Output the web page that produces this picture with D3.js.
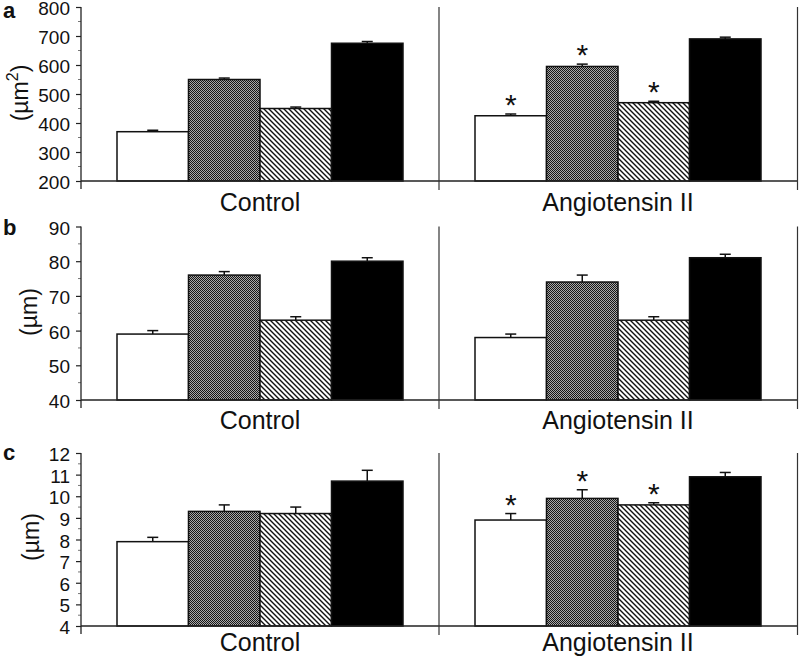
<!DOCTYPE html>
<html><head><meta charset="utf-8">
<script src="https://cdn.jsdelivr.net/npm/d3@7"></script>
<style>
html,body{margin:0;padding:0;background:#fff;}
svg{display:block;font-family:"Liberation Sans",Arial,sans-serif;}
</style></head>
<body>
<svg id="chart" width="800" height="664"></svg>
<script>
// ---- data ----
const categories = ["Control", "Angiotensin II"];
const seriesKeys = ["white", "crosshatch", "diagonal", "black"];

// Panel a (µm²)
const aControl = [370, 550, 450, 675];
const aControlErr = [5, 5, 5, 6];
const aAngio = [425, 595, 470, 690];
const aAngioErr = [6, 8, 5, 6];
const aAngioStars = [true, true, true, false];
const aTicks = [200, 300, 400, 500, 600, 700, 800];

// Panel b (µm)
const bControl = [59, 76, 63, 80];
const bControlErr = [1, 1, 1, 1];
const bAngio = [58, 74, 63, 81];
const bAngioErr = [1, 2, 1, 1];
const bAngioStars = [false, false, false, false];
const bTicks = [40, 50, 60, 70, 80, 90];

// Panel c (µm)
const cControl = [7.9, 9.3, 9.2, 10.7];
const cControlErr = [0.2, 0.3, 0.3, 0.5];
const cAngio = [8.9, 9.9, 9.6, 10.9];
const cAngioErr = [0.3, 0.4, 0.1, 0.2];
const cAngioStars = [true, true, true, false];
const cTicks = [4, 5, 6, 7, 8, 9, 10, 11, 12];

const panels = [
  {letter: "a", unit: "(µm", sup: "2", domain: [200, 800], ticks: aTicks, minorStep: 50,
   values: [aControl, aAngio], errs: [aControlErr, aAngioErr], stars: [[false,false,false,false], aAngioStars],
   top: 7, base: 181, letterY: 18, labelX: 28, labelY: 93, catY: 211},
  {letter: "b", unit: "(µm", sup: null, domain: [40, 90], ticks: bTicks, minorStep: 5,
   values: [bControl, bAngio], errs: [bControlErr, bAngioErr], stars: [[false,false,false,false], bAngioStars],
   top: 226.5, base: 400, letterY: 235, labelX: 37, labelY: 312, catY: 429},
  {letter: "c", unit: "(µm", sup: null, domain: [4, 12], ticks: cTicks, minorStep: 0.5,
   values: [cControl, cAngio], errs: [cControlErr, cAngioErr], stars: [[false,false,false,false], cAngioStars],
   top: 453, base: 626, letterY: 460, labelX: 39, labelY: 537, catY: 651}
];

const svg = d3.select("#chart");
const defs = svg.append("defs");

// crosshatch (fine checker) pattern
const pc = defs.append("pattern").attr("id", "pCross").attr("patternUnits", "userSpaceOnUse")
  .attr("width", 2).attr("height", 2);
pc.append("rect").attr("width", 2).attr("height", 2).attr("fill", "#a8a8a8");
pc.append("rect").attr("x", 0).attr("y", 0).attr("width", 1).attr("height", 1).attr("fill", "#151515");
pc.append("rect").attr("x", 1).attr("y", 1).attr("width", 1).attr("height", 1).attr("fill", "#151515");

// diagonal hatch pattern (\\\)
const pd = defs.append("pattern").attr("id", "pDiag").attr("patternUnits", "userSpaceOnUse")
  .attr("width", 5).attr("height", 5);
pd.append("rect").attr("width", 5).attr("height", 5).attr("fill", "#fff");
pd.append("path").attr("d", "M-1,-1 L6,6 M-1,4 L1,6 M4,-1 L6,1")
  .attr("stroke", "#111").attr("stroke-width", 1.4);

const fills = {white: "#fff", crosshatch: "url(#pCross)", diagonal: "url(#pDiag)", black: "#000"};

const x0 = d3.scaleBand().domain(categories).range([81, 797]).padding(0);
const x1 = d3.scaleBand().domain(seriesKeys).range([36, x0.bandwidth() - 36]).padding(0);

panels.forEach(p => {
  const g = svg.append("g");
  const y = d3.scaleLinear().domain(p.domain).range([p.base, p.top]);

  // bars
  categories.forEach((cat, ci) => {
    seriesKeys.forEach((k, si) => {
      const v = p.values[ci][si];
      const e = p.errs[ci][si];
      const bx = x0(cat) + x1(k);
      const cx = bx + x1.bandwidth() / 2;
      g.append("line").attr("x1", cx).attr("x2", cx).attr("y1", y(v)).attr("y2", y(v + e))
        .attr("stroke", "#111").attr("stroke-width", 1.5);
      g.append("line").attr("x1", cx - 5.5).attr("x2", cx + 5.5).attr("y1", y(v + e)).attr("y2", y(v + e))
        .attr("stroke", "#111").attr("stroke-width", 1.5);
      g.append("rect").attr("x", bx).attr("y", y(v)).attr("width", x1.bandwidth())
        .attr("height", y(p.domain[0]) - y(v))
        .attr("fill", fills[k]).attr("stroke", "#111").attr("stroke-width", 1.5);
      if (p.stars[ci][si]) {
        g.append("text").attr("x", cx).attr("y", y(v + e) + 1)
          .attr("text-anchor", "middle").attr("font-size", 30).attr("fill", "#111").text("*");
      }
    });
  });

  // y axis
  const yAxis = d3.axisLeft(y).tickValues(p.ticks).tickSize(5).tickPadding(6).tickFormat(d3.format("d"));
  const ya = g.append("g").attr("transform", "translate(81,0)").call(yAxis);
  ya.select(".domain").remove();
  ya.selectAll(".tick line").attr("stroke", "#222").attr("stroke-width", 1.2);
  ya.selectAll(".tick text").attr("font-size", 19).attr("fill", "#111").attr("dy", "0.4em")
    .attr("font-family", "'Liberation Sans',Arial,sans-serif");
  const minor = d3.range(p.domain[0], p.domain[1] + 1e-9, p.minorStep)
    .filter(v => !p.ticks.some(t => Math.abs(t - v) < 1e-9));
  g.selectAll(".minor").data(minor).enter().append("line")
    .attr("x1", 78).attr("x2", 81).attr("y1", d => y(d)).attr("y2", d => y(d))
    .attr("stroke", "#777").attr("stroke-width", 1);
  g.append("line").attr("x1", 81).attr("x2", 81).attr("y1", p.top).attr("y2", p.base + 8)
    .attr("stroke", "#222").attr("stroke-width", 1.3);

  // x axis baseline
  g.append("line").attr("x1", 81).attr("x2", 797).attr("y1", p.base).attr("y2", p.base)
    .attr("stroke", "#222").attr("stroke-width", 1.5);
  [x0.range()[0] + x0.bandwidth(), 797.5].forEach(xx => {
    g.append("line").attr("x1", xx).attr("x2", xx).attr("y1", p.top).attr("y2", p.base + 9)
      .attr("stroke", "#333").attr("stroke-width", 1.2);
  });

  categories.forEach(cat => {
    g.append("text").attr("x", x0(cat) + x0.bandwidth() / 2).attr("y", p.catY)
      .attr("text-anchor", "middle").attr("font-size", 25).attr("fill", "#111").text(cat);
  });

  const yl = g.append("text").attr("transform", `translate(${p.labelX},${p.labelY}) rotate(-90)`)
    .attr("text-anchor", "middle").attr("font-size", 23).attr("fill", "#111");
  yl.append("tspan").text(p.unit);
  if (p.sup) {
    yl.append("tspan").attr("font-size", 16).attr("dy", -10).text(p.sup);
    yl.append("tspan").attr("dy", 10).text(")");
  } else {
    yl.append("tspan").text(")");
  }

  g.append("text").attr("x", 3).attr("y", p.letterY).attr("font-size", 22).attr("font-weight", "bold")
    .attr("fill", "#111").text(p.letter);
});
</script>
</body></html>
